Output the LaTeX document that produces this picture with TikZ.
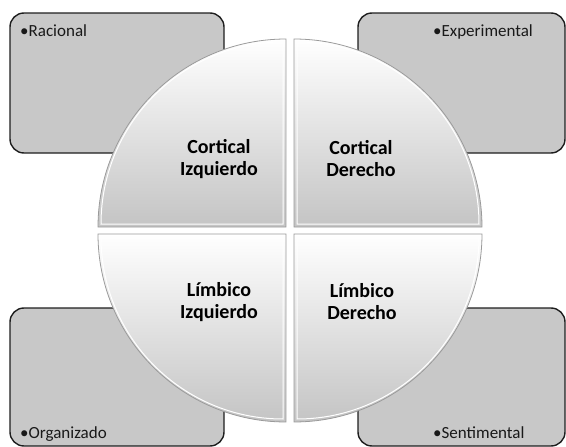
\documentclass[tikz,border=0pt]{standalone}
\usepackage{fontspec}
\setmainfont{Carlito}
\definecolor{boxfill}{HTML}{C8C8C8}
\definecolor{boxline}{HTML}{1E1E1E}
\definecolor{quadlow}{HTML}{C4C4C4}
\definecolor{quadedge}{HTML}{9A9A9A}
\tikzset{
  sidebox/.style={draw=boxline, line width=1.4pt, fill=boxfill, rounded corners=14pt},
  quad/.style={top color=white, bottom color=quadlow, draw=quadedge, line width=0.8pt},
  quadhi/.style={draw=white, line width=1pt},
  quadtext/.style={align=center, font=\fontsize{20}{22}\selectfont\bfseries, text=black},
  bullettext/.style={anchor=base west, inner sep=0pt, font=\fontsize{17}{20}\selectfont, text=black!90}
}
\begin{document}
\begin{tikzpicture}[x=1pt,y=-1pt]
\useasboundingbox (0,0) rectangle (566,447);
% side boxes
\draw[sidebox] (10,13) rectangle (224,153);
\draw[sidebox] (358,13) rectangle (565,153);
\draw[sidebox] (10,308) rectangle (224,446);
\draw[sidebox] (358,308) rectangle (565,446);
% quadrants
\path[quad] (286,227) -- (98,227) arc[start angle=180, end angle=270, radius=188] -- cycle;
\path[quad] (294,227) -- (294,39) arc[start angle=270, end angle=360, radius=188] -- cycle;
\path[quad] (286,234) -- (286,422) arc[start angle=90, end angle=180, radius=188] -- cycle;
\path[quad] (294,234) -- (482,234) arc[start angle=0, end angle=90, radius=188] -- cycle;
% bevel highlights
\draw[quadhi] (283,224) -- (101,224) arc[start angle=180, end angle=270, radius=182] -- cycle;
\draw[quadhi] (297,224) -- (297,42) arc[start angle=270, end angle=360, radius=182] -- cycle;
\draw[quadhi] (283,237) -- (283,419) arc[start angle=90, end angle=180, radius=182] -- cycle;
\draw[quadhi] (297,237) -- (479,237) arc[start angle=0, end angle=90, radius=182] -- cycle;
% quadrant texts
\node[quadtext] (ci) at (219,159) {Cortical\\Izquierdo};
\node[quadtext] (cd) at (361,159) {Cortical\\Derecho};
\node[quadtext] (li) at (219,302) {Límbico\\Izquierdo};
\node[quadtext] (ld) at (362,302) {Límbico\\Derecho};
% box texts
\node[bullettext] (r) at (20,37) {•Racional};
\node[bullettext] (e) at (433,37) {•Experimental};
\node[bullettext] (o) at (20,438) {•Organizado};
\node[bullettext] (s) at (433,438) {•Sentimental};
\end{tikzpicture}
\end{document}
